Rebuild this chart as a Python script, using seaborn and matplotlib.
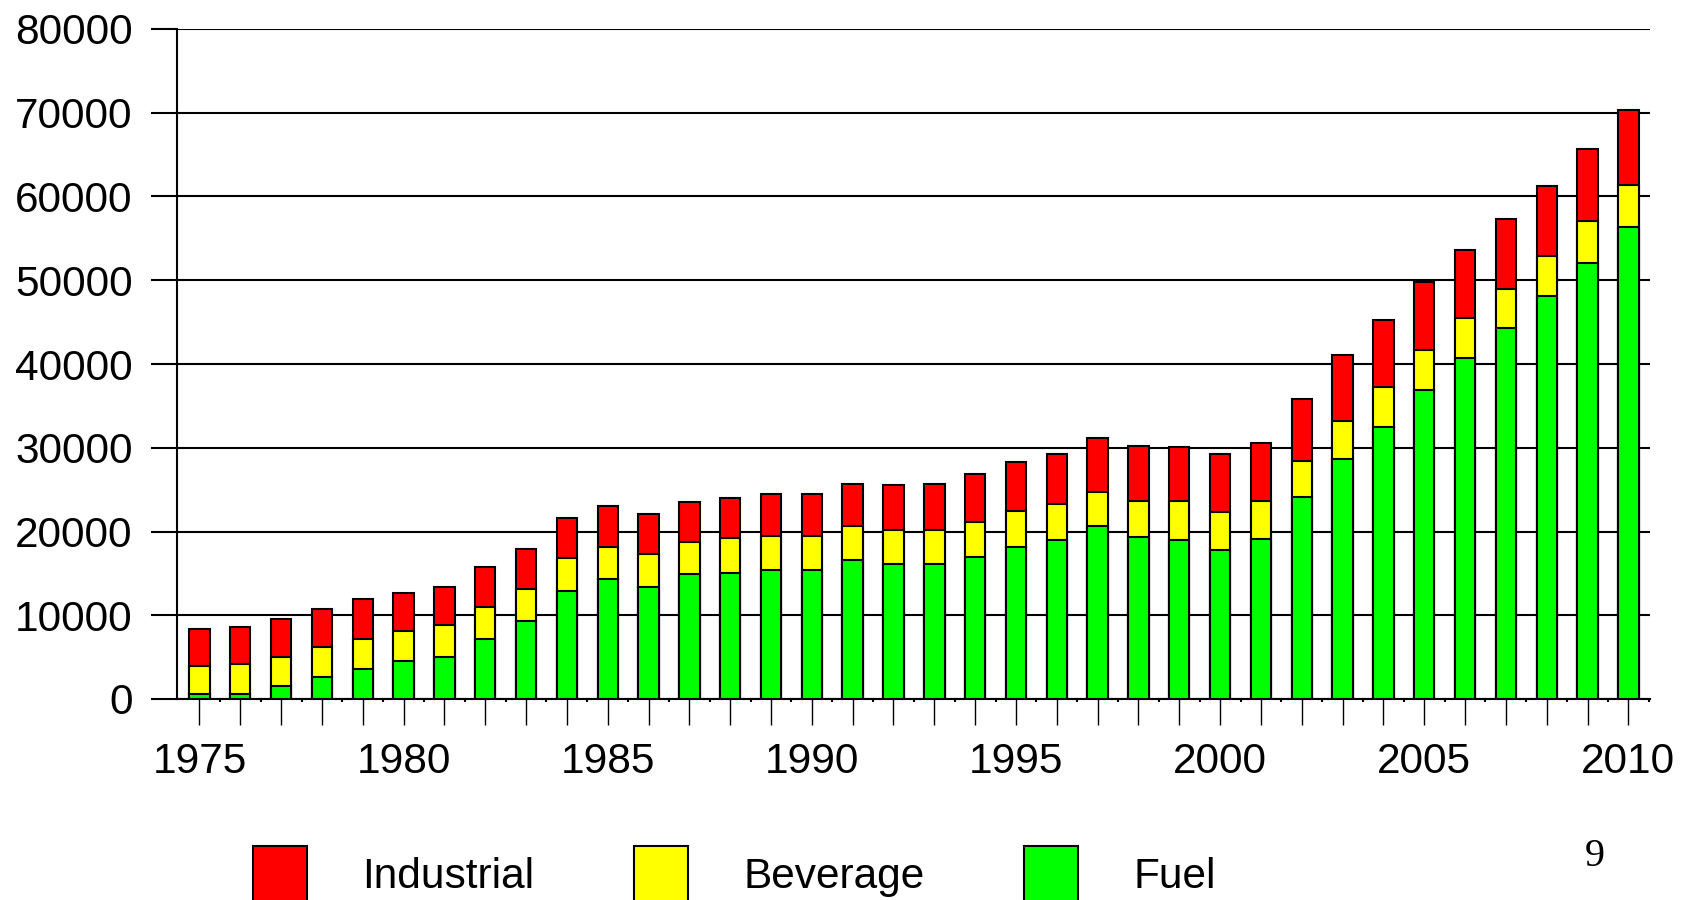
import pandas as pd
import seaborn as sns
import matplotlib.pyplot as plt
import numpy as np
from matplotlib.patches import Patch

# data
years = list(range(1975, 2011))
fuel = [600, 600, 1600, 2600, 3600, 4500, 5000, 7200, 9300, 12900,
        14300, 13400, 14900, 15100, 15400, 15400, 16600, 16100, 16100, 17000,
        18200, 19000, 20600, 19400, 19000, 17800, 19100, 24100, 28700, 32500,
        36900, 40700, 44300, 48100, 52100, 56400]
beverage = [3400, 3600, 3400, 3600, 3600, 3600, 3800, 3800, 3800, 3900,
            3900, 3900, 3800, 4100, 4100, 4100, 4100, 4100, 4100, 4100,
            4300, 4300, 4100, 4300, 4600, 4500, 4600, 4300, 4500, 4800,
            4800, 4800, 4700, 4800, 5000, 5000]
industrial = [4400, 4400, 4600, 4600, 4800, 4600, 4600, 4800, 4800, 4800,
              4800, 4800, 4800, 4800, 5000, 5000, 5000, 5300, 5500, 5800,
              5800, 6000, 6500, 6500, 6500, 6900, 6900, 7400, 7900, 7900,
              8100, 8100, 8300, 8300, 8600, 8900]
yticks = list(range(0, 80001, 10000))

df = pd.DataFrame({'Year': years, 'Fuel': fuel, 'Beverage': beverage, 'Industrial': industrial})
# cumulative heights -> overlapping bars look stacked
df['FuelBev'] = df['Fuel'] + df['Beverage']
df['Total'] = df['FuelBev'] + df['Industrial']

sns.set_style('white')
plt.rcParams['font.family'] = ['Liberation Sans', 'DejaVu Sans']
plt.rcParams['text.color'] = 'black'
plt.rcParams['xtick.color'] = 'black'
plt.rcParams['ytick.color'] = 'black'

fig = plt.figure(figsize=(16.91, 9), dpi=100)
ax = fig.add_axes([177/1691, 1-699/900, (1650-177)/1691, (699-29)/900])

bar_kw = dict(width=0.5, edgecolor='black', linewidth=1.5, errorbar=None, saturation=1, ax=ax)
sns.barplot(data=df, x='Year', y='Total', color='#ff0000', **bar_kw)
sns.barplot(data=df, x='Year', y='FuelBev', color='#ffff00', **bar_kw)
sns.barplot(data=df, x='Year', y='Fuel', color='#00ff00', **bar_kw)

# axes
ax.set_xlim(-0.55, 35.53)
ax.set_ylim(0, 80000)
ax.set_yticks(yticks)
ax.set_yticklabels([str(t) for t in yticks])
ax.yaxis.grid(True, color='black', linewidth=1.5)
ax.xaxis.grid(False)
ax.set_axisbelow(True)
ax.set_xticks(range(len(years)))
ax.set_xticklabels([str(y) if y % 5 == 0 else '' for y in years])
ax.set_xticks(np.arange(len(years)) + 0.5, minor=True)
ax.tick_params(axis='x', which='major', bottom=True, direction='out', length=19, width=1, pad=12,
               labelsize=30.5, color='black', labelcolor='black')
ax.tick_params(axis='x', which='minor', bottom=True, direction='out', length=2, width=1.5, color='black')
ax.tick_params(axis='y', left=True, direction='out', length=19, width=1.5, pad=13,
               labelsize=30.5, color='black', labelcolor='black')
ax.set_xlabel('')
ax.set_ylabel('')
sns.despine(ax=ax)
for s in ['left', 'bottom']:
    ax.spines[s].set_color('black')
    ax.spines[s].set_linewidth(1.5)

# legend at the bottom
handles = [Patch(facecolor='#ff0000', edgecolor='black', linewidth=1.5, label='Industrial'),
           Patch(facecolor='#ffff00', edgecolor='black', linewidth=1.5, label='Beverage'),
           Patch(facecolor='#00ff00', edgecolor='black', linewidth=1.5, label='Fuel')]
leg = fig.legend(handles=handles, loc='upper left', bbox_to_anchor=(253/1691, 1-846/900), ncol=3,
                 frameon=False, fontsize=30.5, handlelength=1.28, handleheight=1.65,
                 handletextpad=1.3, columnspacing=2.35, borderpad=0, borderaxespad=0)
for t in leg.get_texts():
    t.set_color('black')

# page number
fig.text(1595/1691, 1-857/900, '9', family='Liberation Serif', fontsize=29, ha='center', va='center', color='black')

fig.savefig('out.png', dpi=100)
